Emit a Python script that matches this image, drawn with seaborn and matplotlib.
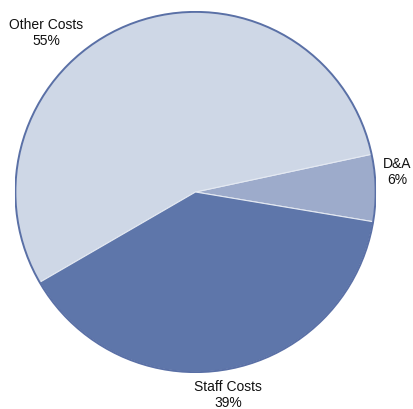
import matplotlib
matplotlib.use("Agg")
import matplotlib.pyplot as plt
import seaborn as sns
from matplotlib.patches import Circle

sns.set_theme(style="white")
plt.rcParams['font.family'] = ['Liberation Sans', 'DejaVu Sans']

# Cost breakdown (share of total, %)
categories = ["D&A", "Other Costs", "Staff Costs"]
shares = [6, 55, 39]
colors = ["#9DABCB", "#CED7E6", "#5E76AA"]

W, H = 414, 409
fig = plt.figure(figsize=(W / 100, H / 100), dpi=100)

cx, cy, r = 195.5, 192, 181
ax = fig.add_axes([(cx - r) / W, 1 - (cy + r) / H, 2 * r / W, 2 * r / H])

wedges, _ = ax.pie(shares, colors=colors, startangle=-9.5, counterclock=True,
                   radius=1.0,
                   wedgeprops=dict(edgecolor="#E4E9F2", linewidth=0.8))
ax.add_patch(Circle((0, 0), 1.0, fill=False, edgecolor="#5A70A6", linewidth=1.4))
ax.set_xlim(-1.005, 1.005)
ax.set_ylim(-1.005, 1.005)
ax.axis("off")

# Label positions in pixels (centre of each two-line label)
label_pos = {"Other Costs": (46, 33), "D&A": (397, 172), "Staff Costs": (228, 395)}
for name, val in zip(categories, shares):
    px, py = label_pos[name]
    fig.text(px / W, 1 - py / H, f"{name}\n{val}%", ha="center", va="center",
             fontsize=10, color="#111111", linespacing=1.15)

fig.savefig("out.png", dpi=100)
